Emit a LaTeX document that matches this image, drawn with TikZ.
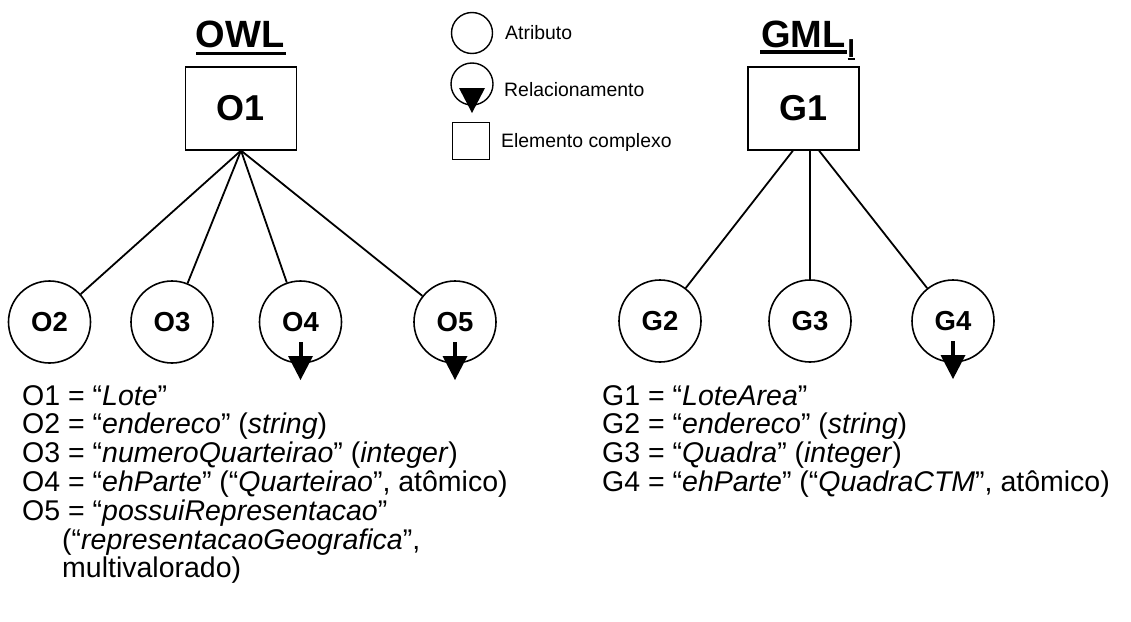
\documentclass[tikz,border=0pt]{standalone}
\usepackage{fontspec}
\setmainfont{Liberation Sans}
\usetikzlibrary{calc}
\newcommand\relarrow[1]{%
  \draw[line width=4pt] ($(#1)+(0,20)$) -- ($(#1)+(0,36)$);
  \fill ($(#1)+(-12.5,34)$) -- ($(#1)+(12.5,34)$) -- ($(#1)+(0,58)$) -- cycle;}
\begin{document}
\begin{tikzpicture}[x=1pt,y=-1pt,
  cbox/.style={draw, line width=1.1pt, minimum width=111pt, minimum height=83pt, inner sep=0pt, font=\bfseries\fontsize{36}{40}\selectfont},
  attr/.style={draw, circle, line width=1.6pt, minimum size=82pt, inner sep=0pt, font=\bfseries\fontsize{27.5}{30}\selectfont},
  link/.style={line width=1.8pt},
  desc/.style={anchor=base west, inner sep=0pt, font=\fontsize{28.5}{30}\selectfont},
  leg/.style={anchor=west, inner sep=0pt, font=\fontsize{19.4}{21}\selectfont},
  ttl/.style={anchor=base, inner sep=0pt, font=\bfseries\fontsize{38}{40}\selectfont},
  uline/.style={line width=3.5pt}]
\useasboundingbox (0,0) rectangle (1131,621);

% titles
\node[ttl] (owl) at (240,47) {OWL};
\draw[uline] (196,53.5) -- (286,53.5);
\node[ttl] (gml) at (803.5,47) {GML};
\node[anchor=base west, inner sep=0pt, font=\bfseries\fontsize{26}{28}\selectfont] (gmlI) at (847.5,57) {I};
\draw[uline] (760,52) -- (847,52);
\draw[line width=2.5pt] (847.5,59) -- (855,59);

% complex elements
\node[cbox] (O1) at (241,108.5) {O1};
\node[cbox] (G1) at (803.5,108.5) {G1};

% attributes
\node[attr] (O2) at (49.5,322) {O2};
\node[attr] (O3) at (172,322) {O3};
\node[attr] (O4) at (300.5,322) {O4};
\node[attr] (O5) at (455,322) {O5};
\node[attr] (G2) at (660,321) {G2};
\node[attr] (G3) at (810,321) {G3};
\node[attr] (G4) at (953,321) {G4};

\relarrow{O4}
\relarrow{O5}
\relarrow{G4}

% connectors
\draw[link] (O1.south) -- (O2);
\draw[link] (O1.south) -- (O3);
\draw[link] (O1.south) -- (O4);
\draw[link] (O1.south) -- (O5);
\draw[link] ([xshift=-10.5pt]G1.south) -- (G2);
\draw[link] ([xshift=6.5pt]G1.south) -- (G3);
\draw[link] ([xshift=15.5pt]G1.south) -- (G4);

% legend
\node[draw, circle, line width=1.4pt, minimum size=41pt, inner sep=0pt] (legA) at (472,33) {};
\node[leg] (legAt) at (505,33) {Atributo};
\node[draw, circle, line width=1.4pt, minimum size=42pt, inner sep=0pt] (legR) at (472,84) {};
\fill ($(legR)+(-13,4)$) -- ($(legR)+(13,4)$) -- ($(legR)+(0,29)$) -- cycle;
\node[leg] (legRt) at (504,90) {Relacionamento};
\node[draw, line width=1pt, minimum size=37pt, inner sep=0pt] (legC) at (470.5,141) {};
\node[leg] (legCt) at (501,142) {Elemento complexo};

% descriptions (left)
\node[desc] (d1) at (22,405) {O1 = “\textit{Lote}”};
\node[desc] (d2) at (22,433.8) {O2 = “\textit{endereco}” (\textit{string})};
\node[desc] (d3) at (22,462.6) {O3 = “\textit{numeroQuarteirao}” (\textit{integer})};
\node[desc] (d4) at (22,491.4) {O4 = “\textit{ehParte}” (“\textit{Quarteirao}”, atômico)};
\node[desc] (d5) at (22,520.2) {O5 = “\textit{possuiRepresentacao}”};
\node[desc] (d6) at (62,549) {(“\textit{representacaoGeografica}”,};
\node[desc] (d7) at (62,577.8) {multivalorado)};

% descriptions (right)
\node[desc] (e1) at (602,405) {G1 = “\textit{LoteArea}”};
\node[desc] (e2) at (602,433.8) {G2 = “\textit{endereco}” (\textit{string})};
\node[desc] (e3) at (602,462.6) {G3 = “\textit{Quadra}” (\textit{integer})};
\node[desc] (e4) at (602,491.4) {G4 = “\textit{ehParte}” (“\textit{QuadraCTM}”, atômico)};
\end{tikzpicture}
\end{document}
